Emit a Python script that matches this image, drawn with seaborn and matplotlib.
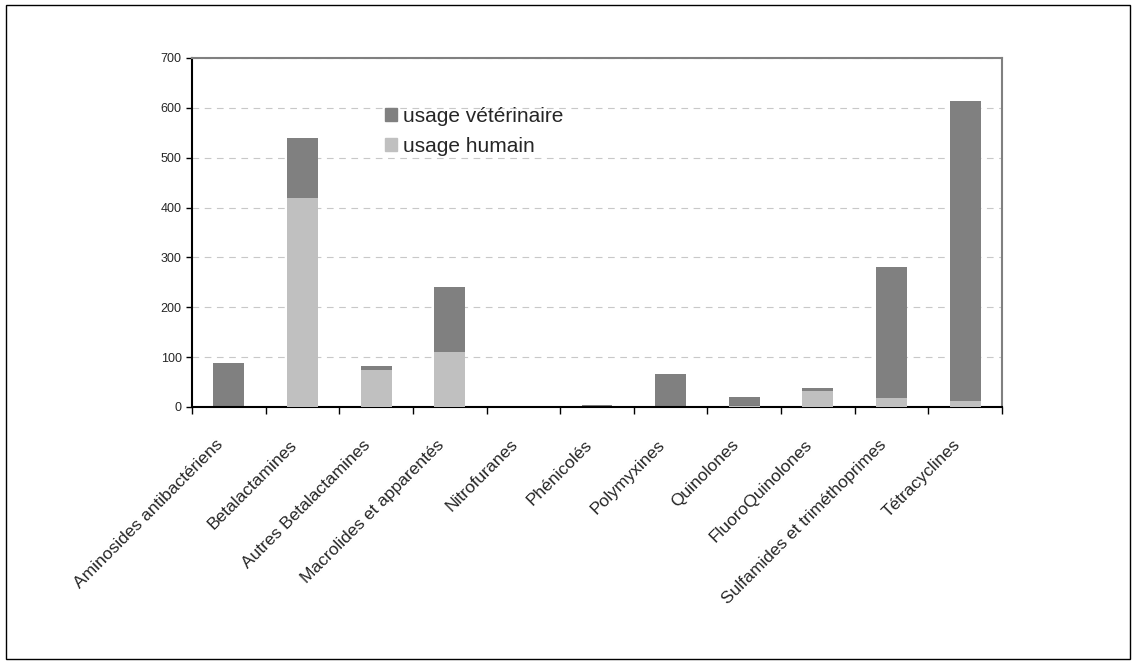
import matplotlib
matplotlib.use("Agg")
import matplotlib.pyplot as plt
import matplotlib.transforms as mtransforms
from matplotlib.patches import Rectangle, Patch
import pandas as pd
import seaborn as sns

# values
categories = ["Aminosides antibactériens", "Betalactamines", "Autres Betalactamines",
              "Macrolides et apparentés", "Nitrofuranes", "Phénicolés", "Polymyxines",
              "Quinolones", "FluoroQuinolones", "Sulfamides et triméthoprimes", "Tétracyclines"]
usage_humain = [0, 420, 74, 110, 0, 0, 0, 2, 32, 18, 11]
usage_veterinaire = [88, 120, 8, 130, 1, 4, 66, 18, 6, 263, 603]

df = pd.DataFrame({"categorie": categories,
                   "humain": usage_humain,
                   "veterinaire": usage_veterinaire})
df["total"] = df["humain"] + df["veterinaire"]

sns.set_style("white")
plt.rcParams["font.family"] = ["Liberation Sans", "DejaVu Sans"]

fig = plt.figure(figsize=(11.36, 6.66), dpi=100)
ax = fig.add_axes([0.169, 0.389, 0.713, 0.524])

dark = "#808080"
light = "#c0c0c0"

# stacked: total first (vet colour), then human part on top of it
sns.barplot(data=df, x="categorie", y="total", color=dark, width=0.42,
            saturation=1, linewidth=0, ax=ax, zorder=2)
sns.barplot(data=df, x="categorie", y="humain", color=light, width=0.42,
            saturation=1, linewidth=0, ax=ax, zorder=3)

ax.set_ylim(0, 700)
ax.set_xlim(-0.5, len(categories) - 0.5)
ax.set_yticks(range(0, 701, 100))
ax.yaxis.grid(True, linestyle=(0, (6, 5)), color="#c8c8c8", linewidth=0.8)
ax.set_axisbelow(True)
ax.set_xlabel("")
ax.set_ylabel("")

# category separators as ticks
ax.set_xticks([i - 0.5 for i in range(len(categories) + 1)], minor=False)
ax.set_xticklabels([])
ax.set_xticks(range(len(categories)), minor=True)
ax.set_xticklabels(categories, minor=True, rotation=45, ha="right",
                   rotation_mode="anchor", fontsize=12.5)
ax.tick_params(axis="x", which="minor", bottom=False, length=0, pad=18)
ax.tick_params(axis="x", which="major", bottom=True, length=5, width=1,
               direction="out", color="black")
ax.tick_params(axis="y", left=True, length=4, width=1, direction="out",
               labelsize=9, color="black")

# nudge the rotated labels a bit to the left and down
offset = mtransforms.ScaledTranslation(-0.13, -0.05, fig.dpi_scale_trans)
for lab in ax.get_xticklabels(minor=True):
    lab.set_transform(lab.get_transform() + offset)

ax.spines["left"].set_color("black")
ax.spines["bottom"].set_color("black")
ax.spines["top"].set_color("#808080")
ax.spines["right"].set_color("#808080")
for s in ax.spines.values():
    s.set_linewidth(1.5)

handles = [Patch(color=dark, label="usage vétérinaire"),
           Patch(color=light, label="usage humain")]
ax.legend(handles=handles, loc="upper left", bbox_to_anchor=(0.225, 0.89),
          frameon=False, fontsize=15, handlelength=0.6, handleheight=0.6,
          handletextpad=0.3, labelspacing=0.55, borderpad=0)

# outer border around the chart
fig.patches.append(Rectangle((0.005, 0.01), 0.99, 0.982, transform=fig.transFigure,
                             fill=False, edgecolor="black", linewidth=1))

fig.savefig("out.png", dpi=100)
